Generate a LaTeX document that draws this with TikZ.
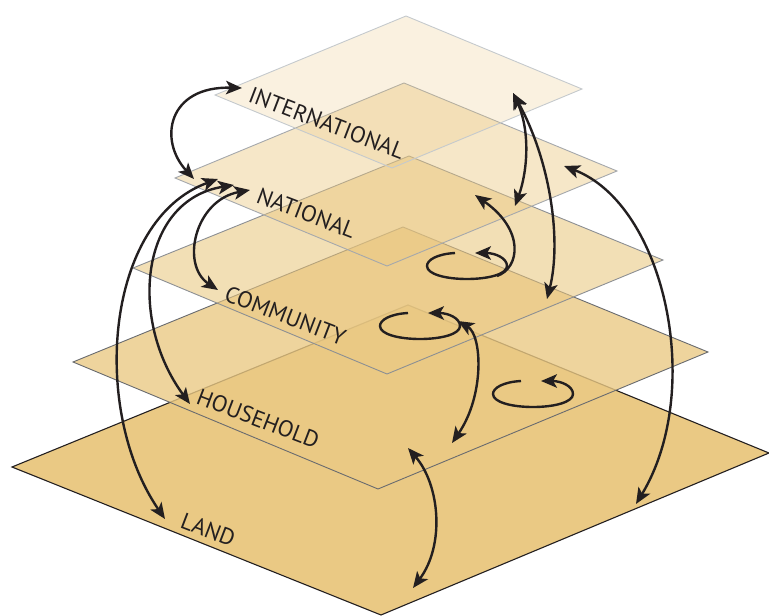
\documentclass[tikz,border=0pt]{standalone}
\usepackage{fontspec}
\setmainfont{PT Sans}
\usetikzlibrary{arrows.meta}
\definecolor{soil}{RGB}{234,201,132}
\definecolor{ink}{RGB}{35,31,32}
\definecolor{edgeA}{RGB}{197,201,205}
\definecolor{edgeB}{RGB}{165,168,172}
\definecolor{edgeC}{RGB}{140,143,147}
\definecolor{edgeD}{RGB}{105,107,111}
\begin{document}
\begin{tikzpicture}[x=1pt,y=-1pt,
  plane/.style={fill=soil, line width=0.9pt, line join=miter},
  flow/.style={draw=ink, line width=2.4pt,
    {Stealth[length=16pt,width=13.5pt,inset=4pt]}-{Stealth[length=16pt,width=13.5pt,inset=4pt]}},
  oneway/.style={draw=ink, line width=2.4pt,
    -{Stealth[length=16pt,width=13.5pt,inset=4pt]}},
  lab/.style={anchor=base west, rotate=-21, inner sep=0pt,
    font=\fontsize{23}{23}\selectfont, text=ink},
  swirl/.pic={
    \draw[oneway] (-12,-13) .. controls (-30,-12) and (-40,-6) .. (-40,0)
      .. controls (-40,8) and (-22,13) .. (0,13)
      .. controls (22,13) and (40,8) .. (40,0)
      .. controls (40,-8) and (28,-13) .. (8,-13);
  }
]
\useasboundingbox (0,0) rectangle (769,616);

% stacked planes, bottom to top
\path[plane, draw=ink, line width=1.1pt]
  (12,467) -- (408,305) -- (769,453) -- (381,615) -- cycle;
\path[plane, draw=edgeD, fill opacity=0.8]
  (73,362) -- (403,227) -- (708,352) -- (378,489) -- cycle;
\path[plane, draw=edgeC, fill opacity=0.6]
  (133,268) -- (409,156) -- (663,260) -- (387,374) -- cycle;
\path[plane, draw=edgeB, fill opacity=0.45]
  (175,178) -- (404,83) -- (617,171) -- (387,266) -- cycle;
\path[plane, draw=edgeA, fill opacity=0.25]
  (215,95) -- (406,16) -- (582,89) -- (392,168) -- cycle;

% level names
\node[lab] (tInt)  at (247,101) {INTERNATIONAL};
\node[lab] (tNat)  at (255,202) {NATIONAL};
\node[lab] (tCom)  at (223,300) {COMMUNITY};
\node[lab] (tHou)  at (195,403) {HOUSEHOLD};
\node[lab] (tLand) at (179,527) {LAND};

% arrow ends
\coordinate (intL)  at (242,88);
\coordinate (natL)  at (194,179);
\coordinate (natA)  at (218,179);
\coordinate (landL) at (165,519);
\coordinate (natB)  at (234,185);
\coordinate (houL)  at (190,404);
\coordinate (natC)  at (250,190);
\coordinate (comL)  at (218,290);
\coordinate (intR)  at (513,93);
\coordinate (natR)  at (515,206);
\coordinate (comR)  at (547,299);
\coordinate (natRR) at (564,166);
\coordinate (landR) at (636,504);
\coordinate (natM)  at (475,195);
\coordinate (houM)  at (452,443);
\coordinate (houB)  at (408,448);
\coordinate (landB) at (413,588);
\coordinate (comLoop) at (497,276);
\coordinate (houLoop) at (458,321);

% links between levels
\draw[flow] (natL) .. controls (158,140) and (168,86) .. (intL);
\draw[flow] (natA) .. controls (105,220) and (90,410) .. (landL);
\draw[flow] (natB) .. controls (140,200) and (128,320) .. (houL);
\draw[flow] (natC) .. controls (195,200) and (180,265) .. (comL);
\draw[flow] (intR) .. controls (530,130) and (528,170) .. (natR);
\draw[flow] (intR) .. controls (550,160) and (562,240) .. (comR);
\draw[flow] (natRR) .. controls (665,205) and (705,390) .. (landR);
\draw[flow] (houB) .. controls (440,485) and (445,545) .. (landB);

% feedback loops within levels
\pic at (467,266) {swirl};
\pic at (420,326) {swirl};
\pic at (533,394) {swirl};
\draw[oneway] (comLoop) .. controls (520,268) and (525,230) .. (natM);
\draw[flow] (houLoop) .. controls (482,335) and (485,395) .. (houM);
\end{tikzpicture}
\end{document}
